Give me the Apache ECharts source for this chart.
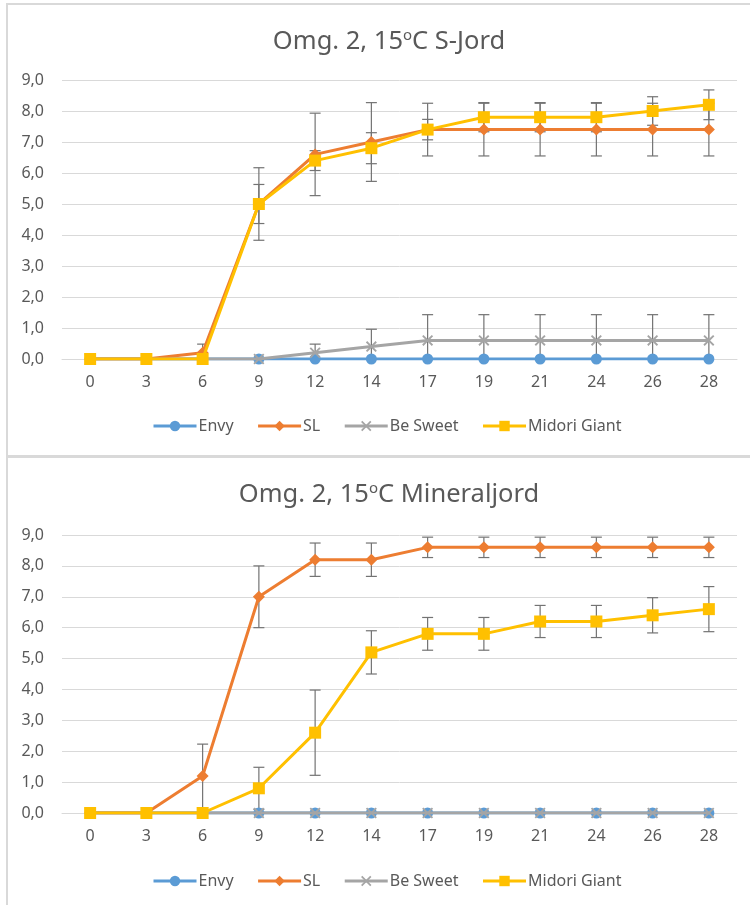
<!DOCTYPE html>
<html>
<head>
<meta charset="utf-8">
<script src="https://cdn.jsdelivr.net/npm/echarts@6/dist/echarts.min.js"></script>
<style>
html,body{margin:0;padding:0;background:#fff;}
#chart{position:absolute;left:0;top:0;width:750px;height:905px;}
.ln{position:absolute;background:#d9d9d9;}
</style>
</head>
<body>
<div class="ln" style="left:6px;top:3px;width:2px;height:902px;"></div>
<div class="ln" style="left:6px;top:3px;width:744px;height:2px;"></div>
<div class="ln" style="left:6px;top:455px;width:744px;height:3px;"></div>
<div id="chart"></div>
<script>
// ---- data ----
const categories = ['0','3','6','9','12','14','17','19','21','24','26','28'];
const yTickLabels = ['0,0','1,0','2,0','3,0','4,0','5,0','6,0','7,0','8,0','9,0'];
const seriesNames = ['Envy','SL','Be Sweet','Midori Giant'];

// Chart 1: Omg. 2, 15oC S-Jord
const sEnvy1     = [0,0,0,0,0,0,0,0,0,0,0,0];
const sSL1       = [0,0,0.2,5.0,6.6,7.0,7.4,7.4,7.4,7.4,7.4,7.4];
const sBeSweet1  = [0,0,0,0,0.2,0.4,0.6,0.6,0.6,0.6,0.6,0.6];
const sMidori1   = [0,0,0,5.0,6.4,6.8,7.4,7.8,7.8,7.8,8.0,8.2];
const eSL1       = [0,0,0.28,1.17,1.33,1.27,0.85,0.85,0.85,0.85,0.85,0.85];
const eBeSweet1  = [0,0,0,0,0.28,0.56,0.83,0.83,0.83,0.83,0.83,0.83];
const eMidori1   = [0,0,0,0.63,0.32,0.5,0.33,0.47,0.47,0.47,0.46,0.48];

// Chart 2: Omg. 2, 15oC Mineraljord
const sEnvy2     = [0,0,0,0,0,0,0,0,0,0,0,0];
const sSL2       = [0,0,1.2,7.0,8.2,8.2,8.6,8.6,8.6,8.6,8.6,8.6];
const sBeSweet2  = [0,0,0,0,0,0,0,0,0,0,0,0];
const sMidori2   = [0,0,0,0.8,2.6,5.2,5.8,5.8,6.2,6.2,6.4,6.6];
const eSL2       = [0,0,1.03,1.0,0.54,0.54,0.33,0.33,0.33,0.33,0.33,0.33];
const eMidori2   = [0,0,0,0.68,1.38,0.7,0.53,0.53,0.52,0.52,0.57,0.73];

const titles = ['Omg. 2, 15{sup|o}C S-Jord', 'Omg. 2, 15{sup|o}C Mineraljord'];

// ---- styling ----
const colors = ['#5b9bd5','#ed7d31','#a5a5a5','#ffc000'];
const symbols = ['circle','diamond','path://M0,1.2 L1.2,0 L5,3.8 L8.8,0 L10,1.2 L6.2,5 L10,8.8 L8.8,10 L5,6.2 L1.2,10 L0,8.8 L3.8,5 Z','rect'];
const symbolSizes = [11,12,11,12];
const textColor = '#595959';
const fontFam = '"Noto Sans", "Open Sans", sans-serif';

function errData(vals, errs){
  const out = [];
  vals.forEach((v,i)=>{ if (errs[i] > 0) out.push([i, v, errs[i]]); });
  return out;
}
function renderErr(params, api){
  const x = api.value(0), v = api.value(1), e = api.value(2);
  const t = api.coord([x, v + e]);
  const b = api.coord([x, v - e]);
  const w = 5.5;
  const st = {stroke:'#737373', lineWidth:1.2};
  return {type:'group', children:[
    {type:'line', shape:{x1:t[0],y1:t[1],x2:b[0],y2:b[1]}, style:st},
    {type:'line', shape:{x1:t[0]-w,y1:t[1],x2:t[0]+w,y2:t[1]}, style:st},
    {type:'line', shape:{x1:b[0]-w,y1:b[1],x2:b[0]+w,y2:b[1]}, style:st}
  ]};
}

const grids = [
  {left:62, top:80, width:675, height:279},
  {left:62, top:535, width:675, height:278}
];
const seriesData = [
  [sEnvy1, sSL1, sBeSweet1, sMidori1],
  [sEnvy2, sSL2, sBeSweet2, sMidori2]
];
const errSets = [
  [[sSL1,eSL1],[sBeSweet1,eBeSweet1],[sMidori1,eMidori1]],
  [[sSL2,eSL2],[sMidori2,eMidori2]]
];

const series = [];
[0,1].forEach(g=>{
  let ed = [];
  errSets[g].forEach(p=>{ ed = ed.concat(errData(p[0], p[1])); });
  series.push({
    type:'custom', xAxisIndex:g, yAxisIndex:g, renderItem:renderErr,
    data:ed, encode:{x:0,y:1}, z:1, clip:true, silent:true, legendHoverLink:false
  });
  seriesNames.forEach((n,k)=>{
    series.push({
      name:n, type:'line', xAxisIndex:g, yAxisIndex:g,
      data:seriesData[g][k],
      symbol:symbols[k], symbolSize:symbolSizes[k], showAllSymbol:true,
      lineStyle:{color:colors[k], width:3},
      itemStyle:{color:colors[k], borderWidth:0},
      z:2+k, animation:false
    });
  });
});

const option = {
  animation:false,
  textStyle:{fontFamily:fontFam},
  title: titles.map((t,i)=>({
    text:t, left:384, top: i===0 ? 23 : 476, textAlign:'center',
    textStyle:{fontSize:25.5, fontWeight:'normal', color:textColor, fontFamily:fontFam,
      rich:{sup:{fontSize:15, verticalAlign:'top', color:textColor, fontFamily:fontFam, padding:[0,0,12,0]}}}
  })),
  legend: [0,1].map(i=>({
    data:seriesNames, left:152, top: i===0 ? 418 : 873, padding:0,
    itemWidth:43, itemHeight:13, itemGap:23,
    lineStyle:{width:3},
    textStyle:{fontSize:16, color:textColor, fontFamily:fontFam, padding:[0,0,0,-3]},
    selectedMode:false
  })),
  grid: grids,
  xAxis: [0,1].map(i=>({
    type:'category', gridIndex:i, data:categories, boundaryGap:true,
    axisLine:{lineStyle:{color:'#d9d9d9', width:1}},
    axisTick:{show:false},
    axisLabel:{color:textColor, fontSize:16, margin:15, fontFamily:fontFam}
  })),
  yAxis: [0,1].map(i=>({
    type:'value', gridIndex:i, min:0, max:9, interval:1,
    axisLine:{show:false}, axisTick:{show:false},
    splitLine:{lineStyle:{color:'#d9d9d9', width:1}},
    axisLabel:{color:textColor, fontSize:16, margin:18, fontFamily:fontFam,
      formatter:(v)=>yTickLabels[Math.round(v)]}
  })),
  series: series
};
const chart = echarts.init(document.getElementById('chart'), null, {renderer:'canvas'});
chart.setOption(option);
</script>
</body>
</html>
